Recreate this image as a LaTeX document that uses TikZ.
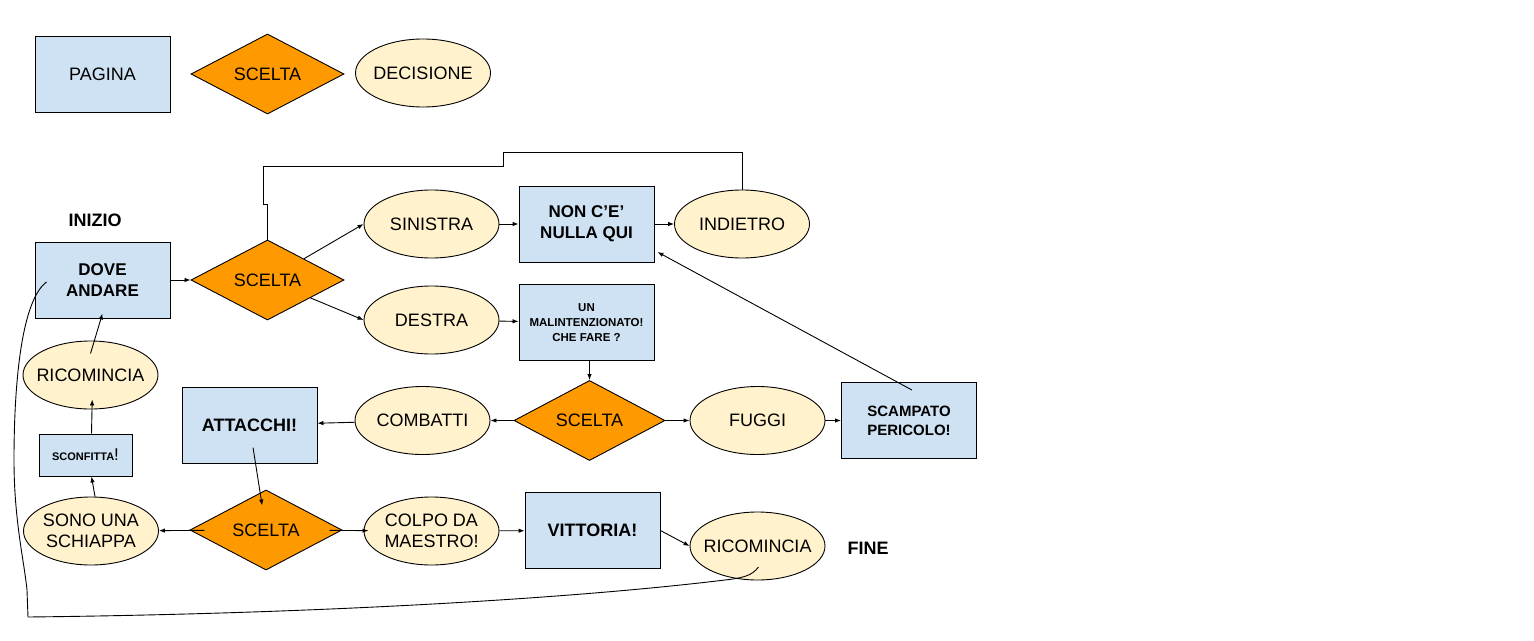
\documentclass[tikz,border=0pt]{standalone}
\usepackage{fontspec}
\setmainfont{Liberation Sans}
\usepackage{tikz}
\usetikzlibrary{shapes.geometric}
\usetikzlibrary{arrows.meta}
\definecolor{pagblue}{HTML}{CFE2F3}
\definecolor{sceltaorange}{HTML}{FF9900}
\definecolor{decyellow}{HTML}{FFF2CC}

\begin{document}
\begin{tikzpicture}[x=1pt,y=-1pt,draw=black!100,line width=0.9pt,font=\fontsize{18}{21.5}\selectfont]
	\fill[white] (0,0) rectangle (1534,640);
	\def \rowlegend{74}
	\def \rowone{224}
	\def \rowtwo{280}
	\def \rowthree{320}
	\def \rowfour{420.5}
	\def \rowfive{531}
	\tikzstyle{p-node}=[rectangle,draw=black!100,fill=pagblue,minimum width=135pt,minimum height=76pt,inner sep=0pt,align=center,font=\fontsize{17}{21}\selectfont\bfseries]
	\tikzstyle{s-node}=[diamond,draw=black!100,fill=sceltaorange,minimum width=153pt,minimum height=76pt,inner sep=0pt]
	\tikzstyle{d-node}=[ellipse,draw=black!100,fill=decyellow,minimum width=135pt,minimum height=68pt,inner xsep=-8pt,inner ysep=0pt,align=center]
	\tikzstyle{t-lbl}=[text centered,font=\fontsize{18}{21}\selectfont\bfseries]
	\tikzstyle{c-edge}=[-{Latex[length=6pt,width=4.5pt]}]

	% legenda
	\node[p-node,font=\fontsize{18}{21.5}\selectfont] (lg0) at (102.5,\rowlegend) {PAGINA};
	\node[s-node] (lg1) at (267.5,\rowlegend) {SCELTA};
	\node[d-node] (lg2) at (423,73) {DECISIONE};

	% inizio e fine
	\node[t-lbl] (lbl0) at (95,220) {INIZIO};
	\node[t-lbl] (lbl1) at (868,548) {FINE};

	% pagine
	\node[p-node] (pg0) at (102.5,\rowtwo) {DOVE\\ANDARE};
	\node[p-node] (pg1) at (586.5,\rowone) {NON C’E’\\NULLA QUI};
	\node[p-node,font=\fontsize{11.5}{15}\selectfont\bfseries] (pg2) at (586.5,322.5) {UN\\MALINTENZIONATO!\\CHE FARE ?};
	\node[p-node,font=\fontsize{15}{19}\selectfont\bfseries] (pg3) at (909,420.5) {SCAMPATO\\PERICOLO!};
	\node[p-node,font=\fontsize{18}{21}\selectfont\bfseries] (pg4) at (249.5,425) {ATTACCHI!};
	\node[p-node,font=\fontsize{18}{21}\selectfont\bfseries] (pg5) at (592.5,530.5) {VITTORIA!};
	\node[p-node,minimum width=93pt,minimum height=42pt] (pg6) at (85.5,455) {{\fontsize{11}{13}\selectfont SCONFITTA}{\fontsize{17}{17}\selectfont\mdseries !}};

	% scelte
	\node[s-node] (sc0) at (267.5,\rowtwo) {SCELTA};
	\node[s-node,minimum width=151pt] (sc1) at (589.5,\rowfour) {SCELTA};
	\node[s-node,minimum width=152pt] (sc2) at (266,530) {SCELTA};

	% decisioni
	\node[d-node] (dc0) at (431.5,\rowone) {SINISTRA};
	\node[d-node] (dc1) at (742,\rowone) {INDIETRO};
	\node[d-node] (dc2) at (431.5,\rowthree) {DESTRA};
	\node[d-node] (dc3) at (422.5,\rowfour) {COMBATTI};
	\node[d-node] (dc4) at (757.5,\rowfour) {FUGGI};
	\node[d-node] (dc5) at (90.5,375) {RICOMINCIA};
	\node[d-node] (dc6) at (91,\rowfive) {SONO UNA\\SCHIAPPA};
	\node[d-node] (dc7) at (431.5,\rowfive) {COLPO DA\\MAESTRO!};
	\node[d-node] (dc8) at (757.5,546) {RICOMINCIA};

	\path[c-edge] (pg0) edge (sc0)
		(sc0) edge (dc0.west)
		(sc0) edge (dc2.west)
		(dc0) edge (pg1)
		(pg1) edge (dc1)
		(dc2) edge (pg2)
		(pg2.south -| sc1.north) edge (sc1.north)
		(sc1) edge (dc3)
		(sc1) edge (dc4)
		(dc4) edge (pg3)
		([shift={(3,8)}]pg3.north) edge ([shift={(3,28)}]pg1.east)
		(dc3) edge (pg4)
		(pg4) edge[shorten <=-16pt,shorten >=-13pt] (sc2)
		(sc2) edge[shorten <=-14pt] (dc6)
		(sc2) edge[shorten <=-12pt,shorten >=-5pt] (dc7)
		([xshift=4pt]dc6.north) edge ([xshift=6pt]pg6.south)
		([xshift=6pt]pg6.north) edge[shorten >=-10pt] ([xshift=1.5pt]dc5.south)
		([yshift=-13pt]dc5.north) edge ([yshift=5pt]pg0.south)
		(dc7) edge (pg5)
		(pg5.east) edge (dc8.west);

	% ritorno
	\draw (dc1.north) -- ++(0,-37) -| (503,166) -| (263,204) -| (sc0.north);
	\draw ([shift={(1,21)}]dc8.center) .. controls (752,576) and (742,578) .. (725,580)
		.. controls (560,600) and (300,614) .. (28,617) -- (27,590)
		.. controls (24,560) and (14,520) .. (14,460)
		.. controls (14,380) and (22,300) .. ([shift={(12,2)}]pg0.west);
\end{tikzpicture}
\end{document}
